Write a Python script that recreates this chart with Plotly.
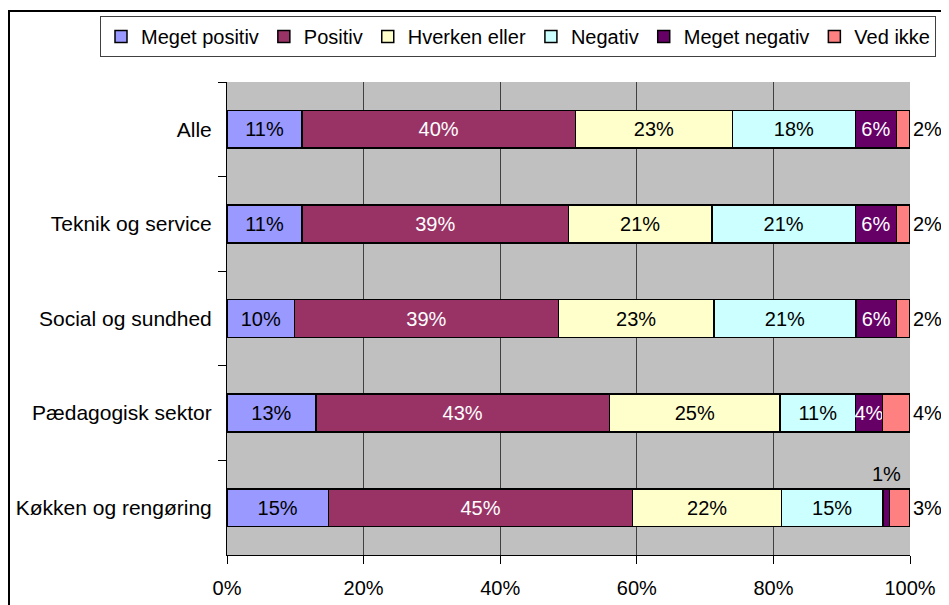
import plotly.graph_objects as go

# Kategorier (top til bund)
categories = ["Alle", "Teknik og service", "Social og sundhed", "Pædagogisk sektor", "Køkken og rengøring"]

# Andele i procent pr. svarkategori
meget_positiv = [11, 11, 10, 13, 15]
positiv = [40, 39, 39, 43, 45]
hverken_eller = [23, 21, 23, 25, 22]
negativ = [18, 21, 21, 11, 15]
meget_negativ = [6, 6, 6, 4, 1]
ved_ikke = [2, 2, 2, 4, 3]

series_names = ["Meget positiv", "Positiv", "Hverken eller", "Negativ", "Meget negativ", "Ved ikke"]
series_values = [meget_positiv, positiv, hverken_eller, negativ, meget_negativ, ved_ikke]
series_colors = ["#9999FF", "#993366", "#FFFFCC", "#CCFFFF", "#660066", "#FF8080"]
text_colors = ["black", "white", "black", "black", "white", "black"]

x_ticks = [0, 20, 40, 60, 80, 100]
x_ticktext = ["0%", "20%", "40%", "60%", "80%", "100%"]

FONT = "Arial, Liberation Sans, sans-serif"
FS = 20
# siden får 8px body-margin, så figuren gøres tilsvarende mindre
W, H = 941, 597
L, R, T, B = 219, 39, 74, 50
pw = W - L - R
ph = H - T - B

fig = go.Figure()

for name, vals, col, tcol in zip(series_names, series_values, series_colors, text_colors):
	labels = [f"{v}%" for v in vals]
	if name == "Ved ikke":
		labels = ["" for v in vals]
	if name == "Meget negativ":
		# 1% vises over bjælken
		labels = [lab if v > 1 else "" for lab, v in zip(labels, vals)]
	fig.add_trace(go.Bar(
		name=name,
		y=categories,
		x=vals,
		orientation="h",
		marker=dict(color=col, line=dict(color="black", width=1.5)),
		text=labels,
		textposition="inside",
		insidetextanchor="middle",
		constraintext="none",
		textangle=0,
		insidetextfont=dict(color=tcol, size=FS, family=FONT),
		hoverinfo="skip",
	))

# Ved ikke-etiketter til højre for 100%
for cat, v in zip(categories, ved_ikke):
	fig.add_annotation(
		x=100, y=cat, xref="x", yref="y",
		text=f"{v}%", showarrow=False,
		xanchor="left", xshift=1,
		font=dict(size=FS, color="black", family=FONT),
	)

# 1%-etiket over Køkken og rengøring
for i, cat in enumerate(categories):
	if meget_negativ[i] <= 1:
		row = [s[i] for s in series_values]
		total = sum(row)
		start = sum(row[:4]) / total * 100
		mid = start + row[4] / total * 100 / 2
		fig.add_annotation(
			x=mid, y=cat, xref="x", yref="y",
			text=f"{meget_negativ[i]}%", showarrow=False,
			yshift=34,
			font=dict(size=FS, color="black", family=FONT),
		)

# Ydre ramme
fig.add_shape(
	type="rect", xref="paper", yref="paper",
	x0=(1 - L) / pw, x1=(W + 20 - L) / pw,
	y0=(H - B - (H + 20)) / ph, y1=(H - B - 3) / ph,
	line=dict(color="black", width=2), fillcolor="rgba(0,0,0,0)",
	layer="above",
)

fig.update_layout(
	width=W, height=H,
	margin=dict(l=L, r=R, t=T, b=B, pad=0, autoexpand=False),
	barmode="stack",
	barnorm="percent",
	bargap=0.6,
	plot_bgcolor="#C0C0C0",
	paper_bgcolor="white",
	font=dict(family=FONT, size=FS, color="black"),
	showlegend=True,
	legend=dict(
		orientation="h",
		x=(92 - L) / pw, xanchor="left",
		y=(H - B - 8) / ph, yanchor="top",
		bgcolor="white",
		bordercolor="#404040", borderwidth=1,
		font=dict(size=FS, family=FONT),
		traceorder="normal",
		itemclick=False,
	),
)

fig.update_xaxes(
	range=[0, 100],
	tickvals=x_ticks,
	ticktext=x_ticktext,
	showgrid=True, gridcolor="#404040", gridwidth=1,
	showline=True, linecolor="black", linewidth=1,
	ticks="outside", ticklen=8, tickcolor="black",
	ticklabelstandoff=7,
	zeroline=False,
	fixedrange=True,
)

fig.update_yaxes(
	autorange="reversed",
	showgrid=False,
	showline=True, linecolor="black", linewidth=1,
	ticks="outside", ticklen=8, tickcolor="black",
	tickson="boundaries",
	ticklabelstandoff=10,
	tickfont=dict(size=21),
	fixedrange=True,
)

fig.write_html("out.html")
